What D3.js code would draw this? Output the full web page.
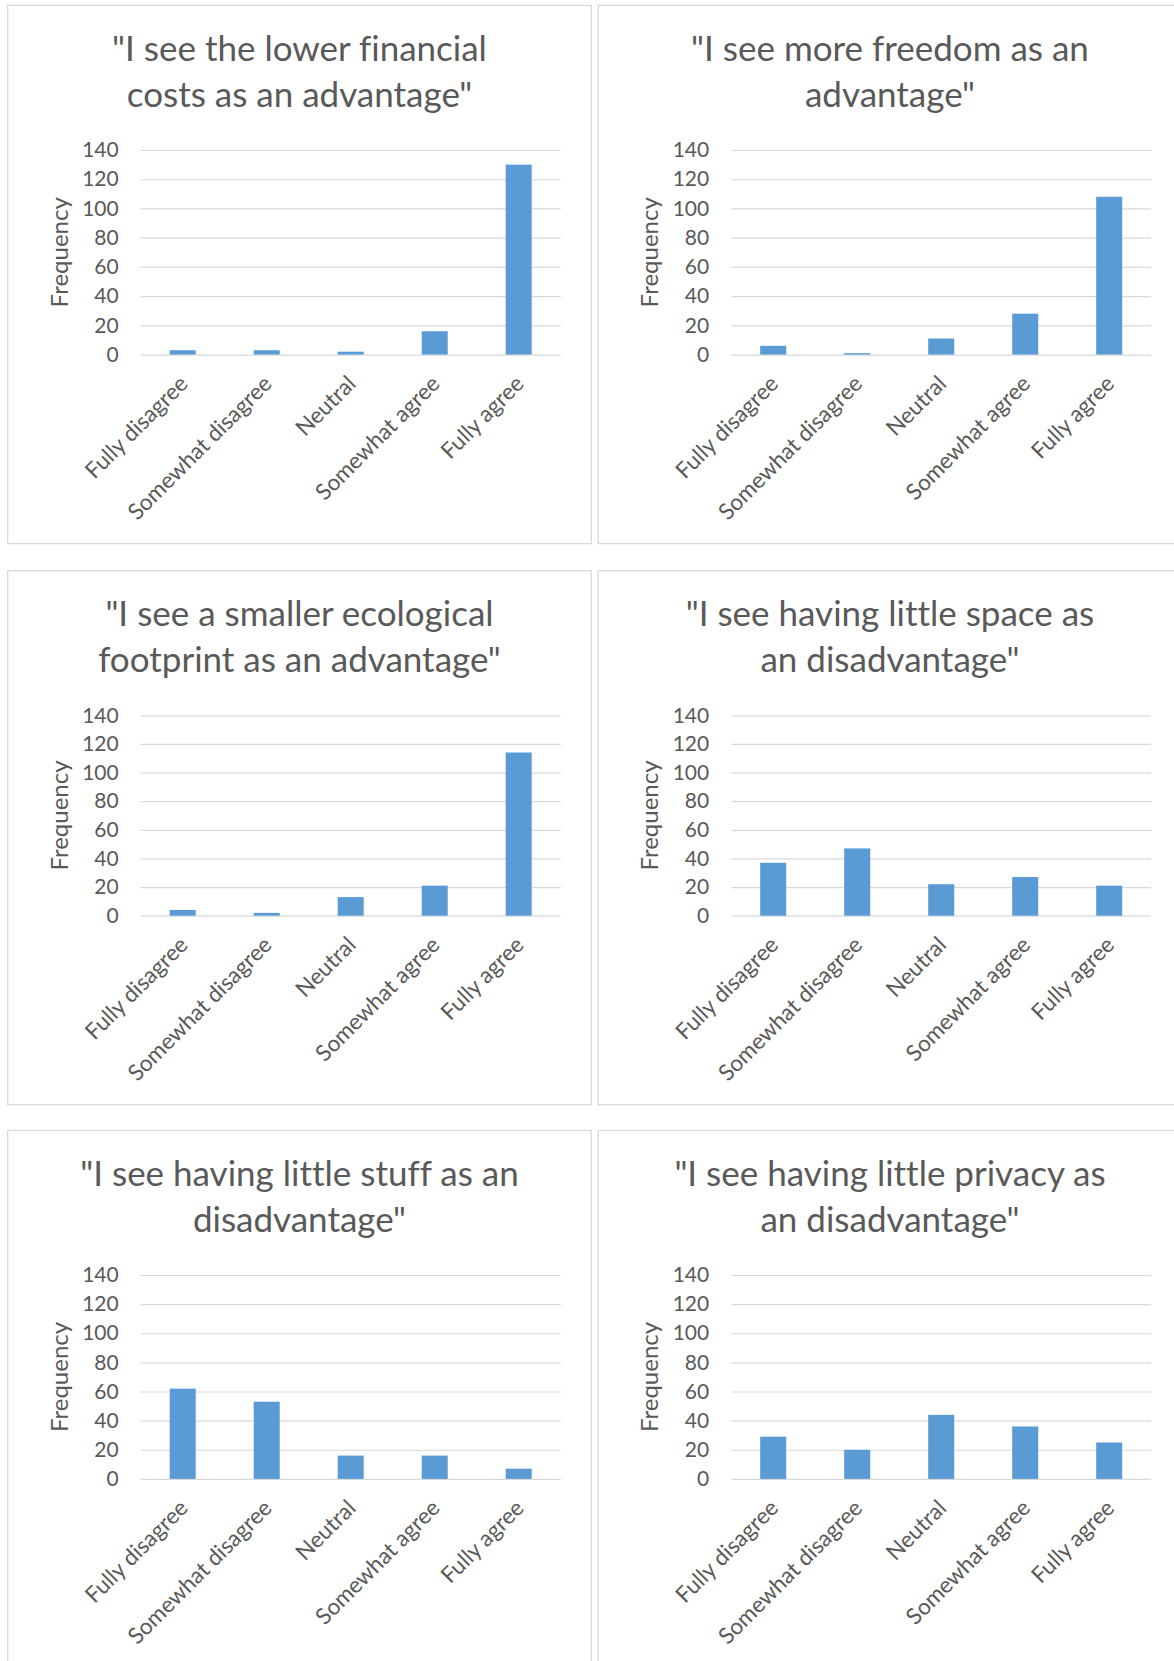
<!DOCTYPE html>
<html>
<head>
<meta charset="utf-8">
<script src="https://cdn.jsdelivr.net/npm/d3@7"></script>
<style>
  body { margin: 0; background: #fff; }
  svg text { font-family: Lato, "Open Sans", sans-serif; fill: #595959; font-variant-ligatures: none; }
</style>
</head>
<body>
<div id="chart"></div>
<script>
const categories = ['Fully disagree', 'Somewhat disagree', 'Neutral', 'Somewhat agree', 'Fully agree'];
const yTicks = [0, 20, 40, 60, 80, 100, 120, 140];

const costsValues = [3, 3, 2, 16, 130];
const freedomValues = [6, 1, 11, 28, 108];
const footprintValues = [4, 2, 13, 21, 114];
const spaceValues = [37, 47, 22, 27, 21];
const stuffValues = [62, 53, 16, 16, 7];
const privacyValues = [29, 20, 44, 36, 25];

const titles = [
  ['"I see the lower financial', 'costs as an advantage"'],
  ['"I see more freedom as an', 'advantage"'],
  ['"I see a smaller ecological', 'footprint as an advantage"'],
  ['"I see having little space as', 'an disadvantage"'],
  ['"I see having little stuff as an', 'disadvantage"'],
  ['"I see having little privacy as', 'an disadvantage"']
];
const series = [costsValues, freedomValues, footprintValues, spaceValues, stuffValues, privacyValues];

// panel grid
const colX = [7.7, 598.2];
const rowY = [5.4, 570.7, 1130.4];
const rowH = [538.2, 534, 537.5];
const panelW = 583.6;

const svg = d3.select('#chart')
  .append('svg')
  .attr('width', 1174)
  .attr('height', 1661);

series.forEach(function(values, i) {
  let col = i % 2, row = Math.floor(i / 2);
  let px = colX[col], py = rowY[row], ph = rowH[row];

  let g = svg.append('g')
    .attr('transform', `translate(${px},${py})`);

  g.append('rect')
    .attr('width', panelW)
    .attr('height', ph)
    .attr('fill', 'white')
    .attr('stroke', '#d9d9d9')
    .attr('stroke-width', 1.3);

  //title, two lines
  let title = g.append('text')
    .attr('text-anchor', 'middle')
    .attr('font-size', '35px');
  titles[i].forEach(function(line, k) {
    title.append('tspan')
      .attr('x', panelW / 2)
      .attr('y', 55.3 + k * 46.4)
      .text(line);
  });

  let left = 133, top = 144.6, width = 420, height = ph - 189 - top;
  let plot = g.append('g').attr('transform', `translate(${left},${top})`);

  let x = d3.scaleBand()
    .domain(categories)
    .range([0, width])
    .paddingInner(0.69)
    .paddingOuter(0.345);

  let y = d3.scaleLinear()
    .domain([0, 140])
    .range([height, 0]);

  //gridlines
  plot.append('g')
    .call(d3.axisLeft(y).tickValues(yTicks).tickSize(-width).tickFormat(''))
    .call(a => a.select('.domain').remove())
    .call(a => a.selectAll('line').attr('stroke', '#d9d9d9').attr('stroke-width', 1.2));

  //tick labels
  plot.append('g')
    .call(d3.axisLeft(y).tickValues(yTicks).tickSize(0).tickPadding(22))
    .call(a => a.select('.domain').remove())
    .call(a => a.selectAll('text').attr('font-size', '21px').attr('fill', '#595959').style('font-family', 'Lato, sans-serif'));

  plot.selectAll('.bar')
    .data(values)
    .enter()
    .append('rect')
    .attr('class', 'bar')
    .attr('x', (d, k) => x(categories[k]))
    .attr('y', d => y(d))
    .attr('width', x.bandwidth())
    .attr('height', d => y(0) - y(d))
    .attr('fill', '#5b9bd5');

  //category labels
  let xAxis = plot.append('g')
    .attr('transform', `translate(0,${height})`)
    .call(d3.axisBottom(x).tickSize(0).tickFormat(d => d))
    .call(a => a.select('.domain').remove());
  xAxis.selectAll('text')
    .attr('font-size', '22.5px')
    .attr('fill', '#595959')
    .style('font-family', 'Lato, sans-serif')
    .attr('text-anchor', 'end')
    .attr('dy', '0.35em')
    .attr('y', 0)
    .attr('transform', 'translate(1,25) rotate(-45)');

  g.append('text')
    .attr('transform', `translate(51.7,${top + height / 2}) rotate(-90)`)
    .attr('text-anchor', 'middle')
    .attr('dy', '0.35em')
    .attr('font-size', '24px')
    .text('Frequency');
});
</script>
</body>
</html>
